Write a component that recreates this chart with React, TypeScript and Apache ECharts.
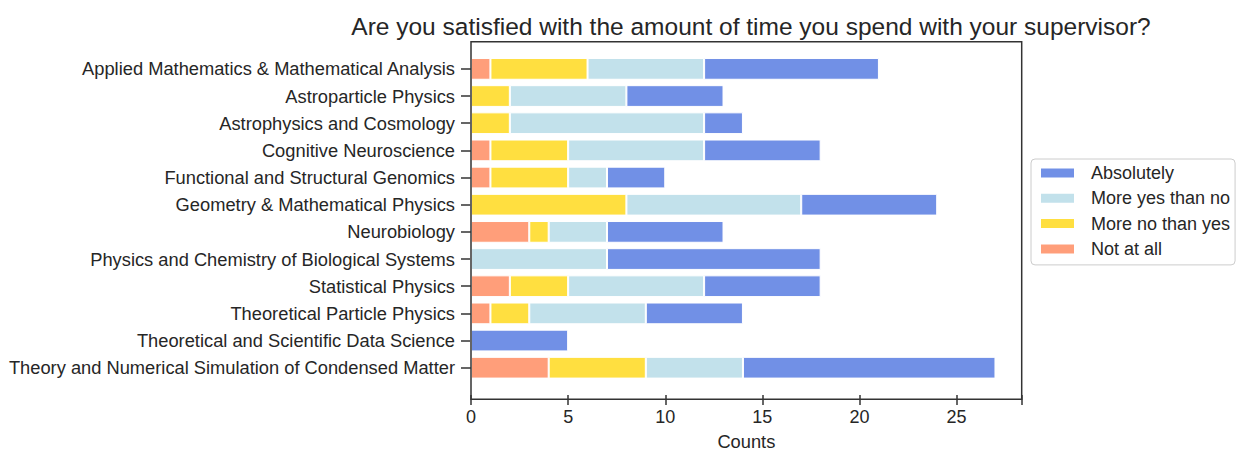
import React, { useEffect, useRef } from "react";
import * as echarts from "echarts";

const categories = [
  "Applied Mathematics & Mathematical Analysis",
  "Astroparticle Physics",
  "Astrophysics and Cosmology",
  "Cognitive Neuroscience",
  "Functional and Structural Genomics",
  "Geometry & Mathematical Physics",
  "Neurobiology",
  "Physics and Chemistry of Biological Systems",
  "Statistical Physics",
  "Theoretical Particle Physics",
  "Theoretical and Scientific Data Science",
  "Theory and Numerical Simulation of Condensed Matter",
];

const notAtAll = [1, 0, 0, 1, 1, 0, 3, 0, 2, 1, 0, 4];
const moreNoThanYes = [5, 2, 2, 4, 4, 8, 1, 0, 3, 2, 0, 5];
const moreYesThanNo = [6, 6, 10, 7, 2, 9, 3, 7, 7, 6, 0, 5];
const absolutely = [9, 5, 2, 6, 3, 7, 6, 11, 6, 5, 5, 13];

const xTicks = [0, 5, 10, 15, 20, 25];
const legendOrder = ["Absolutely", "More yes than no", "More no than yes", "Not at all"];

const FONT = "'Liberation Sans', Arial, sans-serif";
const TXT = "#262626";
const FRAME = "#333333";

export default function App() {
  const ref = useRef<HTMLDivElement>(null);
  useEffect(() => {
    if (!ref.current) return;
    const chart = echarts.init(ref.current, undefined, { renderer: "svg" });
    const mk = (name: string, data: number[], color: string) => ({
      name,
      type: "bar",
      stack: "total",
      data,
      barWidth: "80%",
      itemStyle: { color, borderColor: "#ffffff", borderWidth: 1 },
    });
    chart.setOption({
      animation: false,
      textStyle: { fontFamily: FONT },
      title: {
        text: "Are you satisfied with the amount of time you spend with your supervisor?",
        left: 746,
        top: 9,
        textAlign: "center",
        textStyle: { fontFamily: FONT, fontSize: 24.5, fontWeight: "normal", color: TXT },
      },
      legend: {
        orient: "vertical",
        left: 1031,
        top: 159,
        data: legendOrder,
        itemWidth: 35,
        itemHeight: 11,
        itemGap: 5.3,
        padding: [4, 5, 6, 8],
        borderColor: "#cccccc",
        borderWidth: 1,
        borderRadius: 4,
        backgroundColor: "#ffffff",
        icon: "rect",
        textStyle: {
          fontFamily: FONT,
          fontSize: 18,
          color: TXT,
          lineHeight: 20,
          padding: [0, 0, 0, 11],
        },
      },
      grid: { left: 471, right: 214.3, top: 55.3, height: 330.6, containLabel: false },
      xAxis: {
        type: "value",
        min: 0,
        max: 28.35,
        interval: 5,
        offset: 13.7,
        name: "Counts",
        nameLocation: "middle",
        nameGap: 37,
        nameTextStyle: { fontFamily: FONT, fontSize: 18.3, color: TXT },
        axisLine: { show: false },
        axisTick: { show: true, length: 10, lineStyle: { color: FRAME, width: 1.5 } },
        axisLabel: {
          fontFamily: FONT,
          fontSize: 18,
          color: TXT,
          margin: 13,
          formatter: (v: number) => (xTicks.includes(v) ? String(v) : ""),
        },
        splitLine: { show: false },
      },
      yAxis: {
        type: "category",
        data: categories,
        inverse: true,
        axisLine: { show: false },
        axisTick: {
          show: true,
          length: 10,
          alignWithLabel: true,
          lineStyle: { color: FRAME, width: 1.5 },
        },
        axisLabel: { fontFamily: FONT, fontSize: 18.3, color: TXT, margin: 16 },
      },
      graphic: [
        {
          type: "rect",
          shape: { x: 471, y: 41.7, width: 550.7, height: 357.6 },
          style: { fill: "none", stroke: FRAME, lineWidth: 1.5 },
          z: 100,
          silent: true,
        },
      ],
      series: [
        mk("Not at all", notAtAll, "#FF9E7A"),
        mk("More no than yes", moreNoThanYes, "#FFDF40"),
        mk("More yes than no", moreYesThanNo, "#C2E1EB"),
        mk("Absolutely", absolutely, "#7190E6"),
      ],
    });
    return () => chart.dispose();
  }, []);
  return (
    <div
      ref={ref}
      style={{ position: "absolute", left: 0, top: 0, width: 1236, height: 455, background: "#fff" }}
    />
  );
}
